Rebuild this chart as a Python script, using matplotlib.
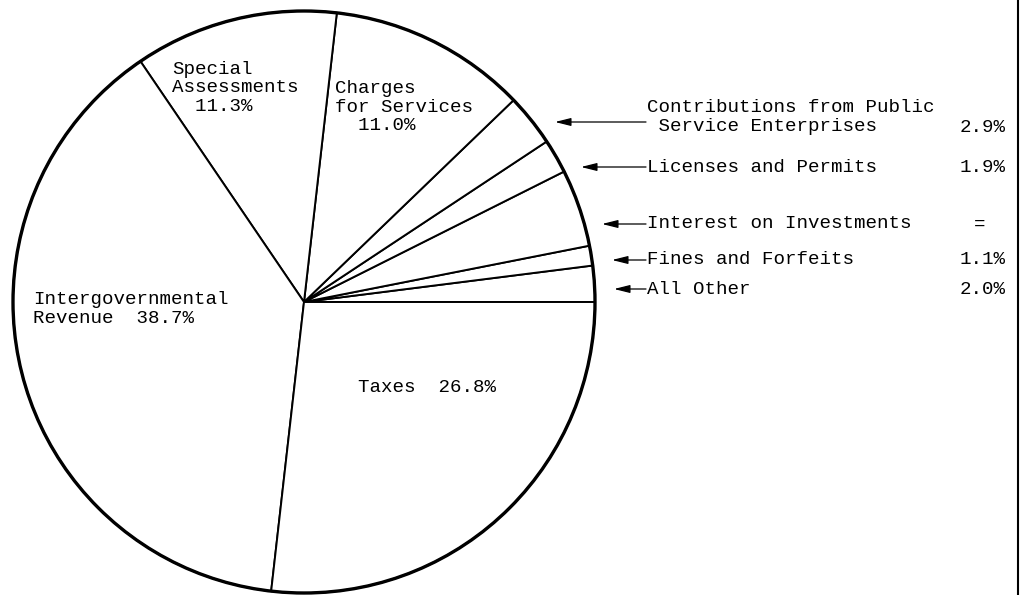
import matplotlib
matplotlib.use("Agg")
import matplotlib.pyplot as plt
from matplotlib.patches import Circle

# slices in drawing order, counter-clockwise from the 3 o'clock line
categories = ["All Other", "Fines and Forfeits", "Interest on Investments",
              "Licenses and Permits", "Contributions from Public\n Service Enterprises",
              "Charges\nfor Services", "Special\nAssessments",
              "Intergovernmental\nRevenue", "Taxes"]
shares = [2.0, 1.1, 4.3, 1.9, 2.9, 11.0, 11.3, 38.7, 26.8]
shown = ["2.0%", "1.1%", "=", "1.9%", "2.9%", "11.0%", "11.3%", "38.7%", "26.8%"]

W, H = 1022, 595
FONT = dict(family="Liberation Mono", fontsize=13.8, color="black")
LS = 1.13

fig = plt.figure(figsize=(W / 100, H / 100), dpi=100)
ax = fig.add_axes([0, 0, 1, 1])

cx, cy, r = 304, 302, 291
ax.pie(shares, center=(cx, cy), radius=r, startangle=0, counterclock=False,
       colors=["white"] * len(shares),
       wedgeprops=dict(edgecolor="black", linewidth=1.4))
ax.add_patch(Circle((cx, cy), r, fill=False, edgecolor="black", linewidth=2.4))

ax.set_xlim(0, W)
ax.set_ylim(H, 0)
ax.set_aspect("auto")
ax.axis("off")

# labels inside the big slices
inside = {5: (335, 107, "{}\n  {}"), 6: (172, 88, "{}\n  {}"),
          7: (33, 309, "{}  {}"), 8: (358, 388, "{}  {}")}
for i, (x, y, fmt) in inside.items():
    ax.text(x, y, fmt.format(categories[i], shown[i]), ha="left", va="center",
            linespacing=LS, **FONT)

# small slices: arrows and a value column at the right
rows = {4: (117, 122, 555), 3: (167, 167, 581), 2: (224, 224, 602),
        1: (260, 260, 612), 0: (289, 289, 614)}
for i, (ty, ay, tip) in rows.items():
    ax.text(647, ty, categories[i], ha="left", va="center", linespacing=LS, **FONT)
    ax.annotate("", xy=(tip, ay), xytext=(646, ay),
                arrowprops=dict(arrowstyle="-|>,head_length=0.8,head_width=0.2",
                                color="black", lw=0.9, shrinkA=0, shrinkB=0,
                                mutation_scale=12))
    if shown[i] == "=":
        ax.text(980, ay, shown[i], ha="center", va="center", **FONT)
    else:
        ax.text(1006, ay + (5 if i == 4 else 0), shown[i], ha="right", va="center", **FONT)

ax.axvline(1018, color="black", linewidth=1.5)

fig.savefig("out.png", dpi=100, facecolor="white")
